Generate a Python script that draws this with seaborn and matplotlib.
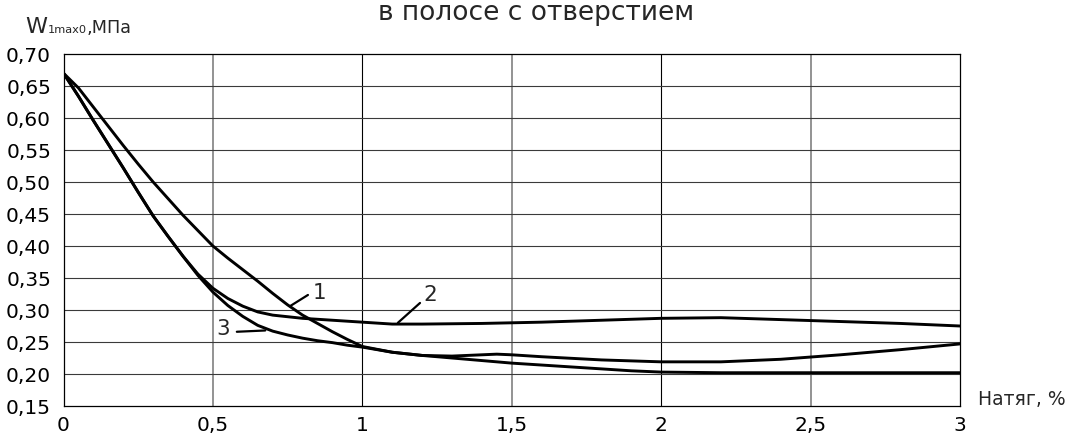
import matplotlib
matplotlib.use("Agg")
import matplotlib.pyplot as plt
import numpy as np
import pandas as pd
import seaborn as sns

# Tension, %
x_curve1 = [0.0, 0.05, 0.1, 0.15, 0.2, 0.25, 0.3, 0.35, 0.4, 0.45, 0.5, 0.55, 0.6, 0.65,
            0.7, 0.75, 0.8, 0.85, 0.9, 0.95, 1.0, 1.1, 1.2, 1.3, 1.4, 1.5, 1.6, 1.7, 1.8,
            1.9, 2.0, 2.2, 2.5, 2.8, 3.0]
w_curve1 = [0.670, 0.647, 0.617, 0.587, 0.557, 0.528, 0.500, 0.474, 0.448, 0.424, 0.400,
            0.381, 0.363, 0.345, 0.326, 0.308, 0.292, 0.279, 0.266, 0.254, 0.243, 0.234,
            0.229, 0.225, 0.221, 0.217, 0.214, 0.211, 0.208, 0.205, 0.203, 0.202, 0.202,
            0.202, 0.202]

x_curve2 = [0.0, 0.05, 0.1, 0.15, 0.2, 0.25, 0.3, 0.35, 0.4, 0.45, 0.5, 0.55, 0.6, 0.65,
            0.7, 0.8, 0.9, 1.0, 1.1, 1.2, 1.4, 1.6, 1.8, 2.0, 2.2, 2.4, 2.6, 2.8, 3.0]
w_curve2 = [0.670, 0.634, 0.596, 0.559, 0.522, 0.484, 0.447, 0.415, 0.384, 0.356, 0.334,
            0.318, 0.306, 0.297, 0.292, 0.287, 0.284, 0.281, 0.278, 0.278, 0.279, 0.281,
            0.284, 0.287, 0.288, 0.285, 0.282, 0.279, 0.275]

x_curve3 = [0.0, 0.05, 0.1, 0.15, 0.2, 0.25, 0.3, 0.35, 0.4, 0.45, 0.5, 0.55, 0.6, 0.65,
            0.7, 0.75, 0.8, 0.85, 0.9, 0.95, 1.0, 1.1, 1.2, 1.3, 1.4, 1.45, 1.5, 1.6, 1.8,
            2.0, 2.2, 2.4, 2.6, 2.8, 3.0]
w_curve3 = [0.670, 0.634, 0.596, 0.559, 0.522, 0.484, 0.447, 0.415, 0.384, 0.354, 0.328,
            0.307, 0.290, 0.276, 0.267, 0.261, 0.256, 0.252, 0.249, 0.245, 0.242, 0.234,
            0.229, 0.228, 0.230, 0.231, 0.230, 0.227, 0.222, 0.219, 0.219, 0.223, 0.230,
            0.238, 0.247]

x_ticks = [0, 0.5, 1, 1.5, 2, 2.5, 3]
x_tick_labels = ["0", "0,5", "1", "1,5", "2", "2,5", "3"]
y_ticks = [0.15, 0.20, 0.25, 0.30, 0.35, 0.40, 0.45, 0.50, 0.55, 0.60, 0.65, 0.70]
y_tick_labels = ["0,15", "0,20", "0,25", "0,30", "0,35", "0,40", "0,45", "0,50",
                 "0,55", "0,60", "0,65", "0,70"]

curve_names = ["1", "2", "3"]
title_text = "в полосе с отверстием"
x_label = "Натяг, %"
y_label_main = "W"
y_label_sub = "1max0"
y_label_unit = ",МПа"

frames = []
for name, xs, ws in zip(curve_names, [x_curve1, x_curve2, x_curve3],
                        [w_curve1, w_curve2, w_curve3]):
    frames.append(pd.DataFrame({"tension": xs, "w": ws, "curve": name}))
df = pd.concat(frames, ignore_index=True)

sns.set_style("white")
plt.rcParams["font.family"] = ["DejaVu Sans"]

W, H = 1069, 437
fig = plt.figure(figsize=(W / 100, H / 100), dpi=100)
ax = fig.add_axes([63.5 / W, 1 - 406 / H, (960 - 63.5) / W, (406 - 54) / H])


def px(x, y):
    """Figure-fraction coordinates from pixel position (origin top-left)."""
    return x / W, 1 - y / H


# grid: whole units black, half units grey
for xv in x_ticks[1:-1]:
    is_whole = float(xv).is_integer()
    ax.axvline(xv, color="#000000" if is_whole else "#8a8a8a",
               lw=0.8 if is_whole else 1.3, zorder=1)
for yv in y_ticks[1:-1]:
    ax.axhline(yv, color="#3a3a3a", lw=0.8, zorder=1)

sns.lineplot(data=df, x="tension", y="w", hue="curve",
             palette={"1": "black", "2": "black", "3": "black"},
             linewidth=2.1, legend=False, ax=ax, zorder=3, sort=True,
             estimator=None)

ax.set_xlim(0, 3)
ax.set_ylim(0.15, 0.70)
ax.set_xticks(x_ticks)
ax.set_xticklabels(x_tick_labels)
ax.set_yticks(y_ticks)
ax.set_yticklabels(y_tick_labels)
ax.tick_params(axis="both", length=0, labelsize=14.5, colors="black")
ax.tick_params(axis="x", pad=7)
ax.tick_params(axis="y", pad=9)
ax.set_xlabel("")
ax.set_ylabel("")
for side in ["top", "right", "bottom", "left"]:
    ax.spines[side].set_visible(True)
    ax.spines[side].set_color("black")
    ax.spines[side].set_linewidth(0.9)

# curve numbers with leader lines
label_text_pos = [(0.858, 0.327), (1.226, 0.323), (0.534, 0.270)]
label_tip_pos = [(0.758, 0.306), (1.119, 0.280), (0.675, 0.268)]
label_tail_pos = [(0.818, 0.3235), (1.193, 0.311), (0.580, 0.266)]
for name, tpos, tip, tail in zip(curve_names, label_text_pos, label_tip_pos, label_tail_pos):
    ax.text(tpos[0], tpos[1], name, fontsize=15.5, ha="center", va="center", zorder=5)
    ax.plot([tail[0], tip[0]], [tail[1], tip[1]], color="black", lw=1.6, zorder=4)

ax.text(3.06, 0.151, x_label, fontsize=13.5, ha="left", va="baseline",
        transform=ax.transData, clip_on=False)

fig.text(*px(25, 33), y_label_main, fontsize=16, ha="left", va="baseline")
fig.text(*px(48, 33), y_label_sub, fontsize=8.2, ha="left", va="baseline")
fig.text(*px(87, 33), y_label_unit, fontsize=12.7, ha="left", va="baseline")

fig.text(*px(536, 20), title_text, fontsize=19, ha="center", va="baseline")

fig.savefig("out.png", dpi=100)
